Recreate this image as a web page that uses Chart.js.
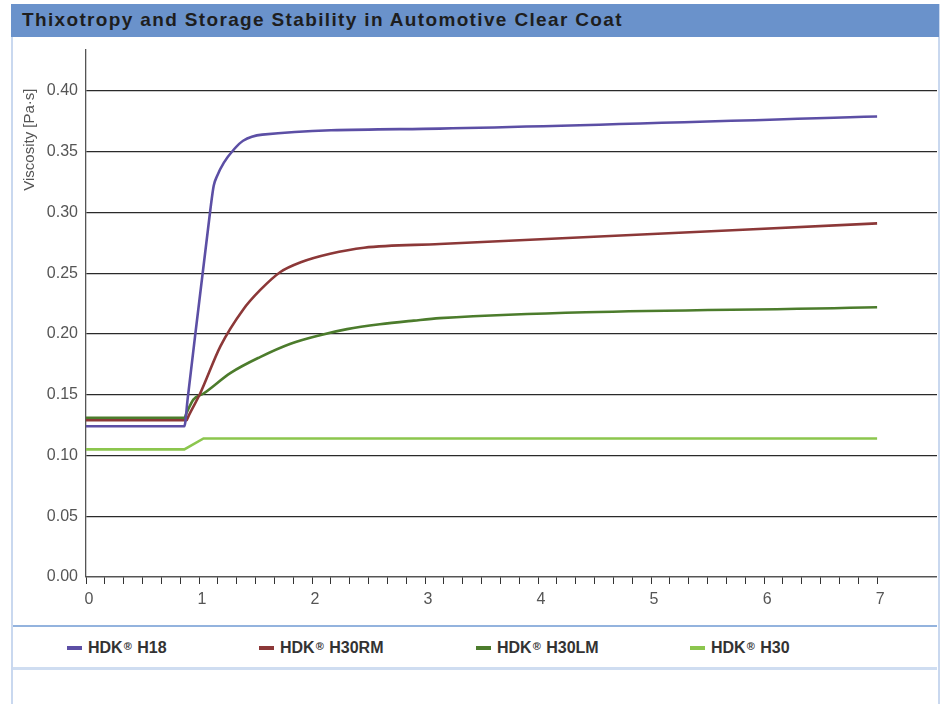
<!DOCTYPE html>
<html>
<head>
<meta charset="utf-8">
<title>Thixotropy and Storage Stability in Automotive Clear Coat</title>
<script src="https://cdn.jsdelivr.net/npm/chart.js@4.4.1/dist/chart.umd.min.js"></script>
<style>
    html, body { margin: 0; padding: 0; background: #fff; }
    body { width: 943px; height: 704px; position: relative; overflow: hidden; font-family: "Liberation Sans", Arial, sans-serif; }
    .card { position: absolute; left: 11px; top: 4px; width: 925px; height: 710px; border-left: 2px solid #c9d8ef; border-right: 2px solid #c9d8ef; }
    .titlebar { position: absolute; left: 11px; top: 4px; width: 928px; height: 33px; background: #6a92cb; z-index: 2; }
    .titlebar span { position: absolute; left: 11px; top: 5px; font-size: 19px; letter-spacing: 1.35px; font-weight: bold; color: #1e1e1e; white-space: nowrap; }
    #chartWrap { position: absolute; left: 13px; top: 32px; z-index: 1; }
    .divider1 { position: absolute; left: 13px; top: 625px; width: 924px; height: 2px; background: #93b3de; z-index: 2; }
    .divider2 { position: absolute; left: 13px; top: 667px; width: 924px; height: 3px; background: #cfddf1; }
    .legend-item { position: absolute; top: 638px; height: 20px; display: flex; align-items: center; font-size: 16px; font-weight: bold; color: #333; white-space: nowrap; }
    .legend-item i { display: inline-block; width: 15px; height: 4px; margin-right: 6px; }
    .legend-item sup { font-size: 11px; position: relative; top: -2px; margin-left: 1px; margin-right: 1px; }
</style>
</head>
<body>
<div class="card"></div>
<div class="titlebar"><span>Thixotropy and Storage Stability in Automotive Clear Coat</span></div>
<div id="chartWrap"><canvas id="viscChart" width="924" height="594"></canvas></div>
<div class="divider1"></div>
<div id="legend"></div>
<div class="divider2"></div>

<script>
// Series names and colours
const seriesNames = ["H18", "H30RM", "H30LM", "H30"];
const seriesColors = ["#5c4fa5", "#8c3838", "#4c7c2c", "#8cc64e"];

// Time axis values per series
const h18X = [0, 0.87, 0.90, 1.10, 1.13, 1.16, 1.22, 1.31, 1.39, 1.56, 3.13, 7.0];
const h18Y = [0.124, 0.124, 0.147, 0.302, 0.322, 0.330, 0.341, 0.352, 0.359, 0.364, 0.369, 0.379];

const h30rmX = [0, 0.89, 0.91, 1.01, 1.19, 1.39, 1.54, 1.72, 1.90, 2.16, 2.46, 3.13, 7.0];
const h30rmY = [0.129, 0.129, 0.133, 0.151, 0.190, 0.220, 0.236, 0.251, 0.259, 0.266, 0.271, 0.274, 0.291];

const h30lmX = [0, 0.87, 0.89, 0.95, 1.04, 1.28, 1.54, 1.81, 2.07, 2.31, 2.60, 2.90, 3.13, 7.0];
const h30lmY = [0.131, 0.131, 0.135, 0.146, 0.151, 0.168, 0.181, 0.192, 0.199, 0.204, 0.208, 0.211, 0.213, 0.222];

const h30X = [0, 0.87, 1.04, 7.0];
const h30Y = [0.105, 0.105, 0.114, 0.114];

// Axis ticks
const xTickStep = 1 / 6;
const xTickMax = 7;
const xMax = 7.53;
const yTickValues = [0, 0.05, 0.10, 0.15, 0.20, 0.25, 0.30, 0.35, 0.40];
const yMax = 0.434;
const yTitle = "Viscosity [Pa·s]";

const seriesX = [h18X, h30rmX, h30lmX, h30X];
const seriesY = [h18Y, h30rmY, h30lmY, h30Y];
const smoothSeries = [true, true, true, false];

function toPoints(xs, ys) {
    return xs.map((x, i) => ({ x: x, y: ys[i] }));
}

// Legend (HTML, laid out like the original)
const legendLefts = [67, 259, 476, 690];
document.getElementById("legend").innerHTML = seriesNames.map((n, i) => `
    <div class="legend-item" style="left:${legendLefts[i]}px">
        <i style="background:${seriesColors[i]}"></i>HDK<sup>®</sup>&nbsp;${n}
    </div>
`).join("");

// Y axis title drawn near the top like the original
const yTitlePlugin = {
    id: "yTitle",
    afterDraw(chart) {
        const { ctx, chartArea } = chart;
        ctx.save();
        ctx.translate(chartArea.left - 56, chartArea.top + 90);
        ctx.rotate(-Math.PI / 2);
        ctx.font = "15px 'Liberation Sans', Arial, sans-serif";
        ctx.fillStyle = "#555";
        ctx.textAlign = "center";
        ctx.textBaseline = "middle";
        ctx.fillText(yTitle, 0, 0);
        ctx.restore();
    }
};

const ctx = document.getElementById("viscChart").getContext("2d");
new Chart(ctx, {
    type: "line",
    data: {
        datasets: seriesNames.map((n, i) => ({
            label: "HDK® " + n,
            data: toPoints(seriesX[i], seriesY[i]),
            borderColor: seriesColors[i],
            borderWidth: 2.6,
            pointRadius: 0,
            tension: 0,
            cubicInterpolationMode: smoothSeries[i] ? "monotone" : "default",
            fill: false
        }))
    },
    options: {
        responsive: false,
        animation: false,
        devicePixelRatio: 1,
        layout: { padding: { top: 7, right: 0, left: 0, bottom: 0 } },
        plugins: { legend: { display: false }, tooltip: { enabled: false } },
        scales: {
            x: {
                type: "linear",
                min: 0,
                max: xMax,
                afterBuildTicks: (scale) => {
                    const t = [];
                    for (let k = 0; k * xTickStep <= xTickMax + 1e-9; k++) t.push({ value: k * xTickStep });
                    scale.ticks = t;
                },
                afterFit: (scale) => { scale.height = 49; },
                border: { display: true, color: "#555", width: 1.3 },
                grid: { drawOnChartArea: false, drawTicks: true, tickLength: 7, color: "#333", lineWidth: 1 },
                ticks: {
                    autoSkip: false,
                    maxRotation: 0,
                    padding: 6,
                    labelOffset: 3,
                    color: "#555",
                    font: { family: "'Liberation Sans', Arial, sans-serif", size: 16 },
                    callback: (v) => Math.abs(v - Math.round(v)) < 1e-6 ? String(Math.round(v)) : ""
                }
            },
            y: {
                min: 0,
                max: yMax,
                afterBuildTicks: (scale) => {
                    scale.ticks = yTickValues.map(v => ({ value: v }));
                },
                afterFit: (scale) => { scale.width = 73; },
                border: { display: true, color: "#555", width: 1.3 },
                grid: { drawTicks: false, color: "#2a2a2a", lineWidth: 1.2 },
                ticks: {
                    padding: 8,
                    color: "#555",
                    font: { family: "'Liberation Sans', Arial, sans-serif", size: 16 },
                    callback: (v) => v.toFixed(2)
                }
            }
        }
    },
    plugins: [yTitlePlugin]
});
</script>
</body>
</html>
